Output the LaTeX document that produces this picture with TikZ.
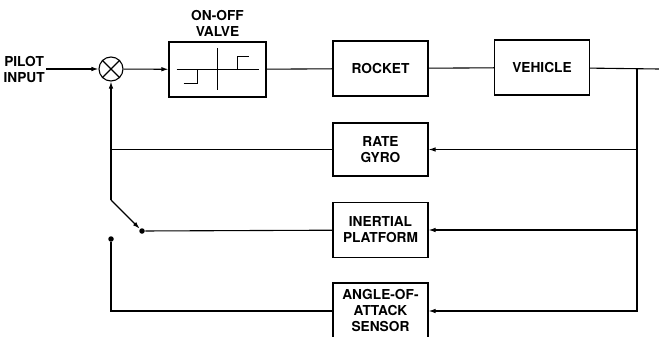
\documentclass[tikz,border=0pt]{standalone}
\usepackage{fontspec}
\setmainfont{TeX Gyre Heros}
\usetikzlibrary{arrows.meta,positioning}

\begin{document}
\begin{tikzpicture}[
  x=1pt,y=-1pt,line width=1.1pt,
  blk/.style={draw,rectangle,minimum width=95pt,minimum height=55pt,inner sep=0pt,
              align=center,font=\fontsize{13.7}{16}\selectfont\bfseries},
  lbl/.style={inner sep=1pt,align=center,font=\fontsize{13.7}{16}\selectfont\bfseries},
  sumjn/.style={draw,circle,minimum size=24pt,inner sep=0pt},
  contact/.style={circle,fill,inner sep=0pt,minimum size=5.5pt},
  sig/.style={-{Latex[length=7pt,width=4.5pt]}},
]
  \useasboundingbox (0,0) rectangle (659,337);

  % Forward path
  \node[sumjn] (sum) at (111,69) {};
  \draw (sum.north west) -- (sum.south east) (sum.north east) -- (sum.south west);
  \node[lbl,anchor=west] (pilot) at (2,70) {PILOT\\INPUT};
  \node[blk,minimum width=97pt] (valve) at (217.5,69.5) {};
  \node[lbl,above=3pt of valve] (valvelbl) {ON-OFF\\VALVE};
  \node[blk] (rocket)  at (380.5,68.5) {ROCKET};
  \node[blk] (vehicle) at (542,67.5) {VEHICLE};

  % relay characteristic
  \begin{scope}[shift={(valve.center)},line width=0.9pt]
    \draw (-41,0) -- (41,0) (0,-21) -- (0,21);
    \draw (-34,13.5) -- (-20,13.5) -- (-20,0);
    \draw (20,0) -- (20,-13.5) -- (31,-13.5);
  \end{scope}

  % Feedback sensors
  \node[blk,minimum height=53pt] (rate) at (380.5,149.5) {RATE\\GYRO};
  \node[blk] (inertial) at (380.5,230) {INERTIAL\\PLATFORM};
  \node[blk,minimum height=56pt] (aoa) at (380.5,311) {ANGLE-OF-\\ATTACK\\SENSOR};

  \coordinate (tap) at (637,69);
  \coordinate (out) at (659,69);
  \coordinate (bend) at (111,200);
  \node[contact] (swa) at (142,231) {};
  \node[contact] (swb) at (111,239) {};

  % Arrows
  \draw[sig] (pilot.east |- sum) -- (sum.west);
  \draw[sig] (sum) -- (valve);
  \draw (valve) -- (rocket);
  \draw (rocket) -- (vehicle);
  \draw (vehicle) -- (out);
  \draw[sig] (tap) |- (rate);
  \draw[sig] (tap) |- (inertial);
  \draw[sig] (tap) |- (aoa);
  \draw (rate) -- (rate -| sum);
  \draw[sig] (bend) -- (sum.south);
  \draw[sig] (bend) -- (swa);
  \draw (swa) -- (inertial);
  \draw (swb) |- (aoa);
\end{tikzpicture}
\end{document}
